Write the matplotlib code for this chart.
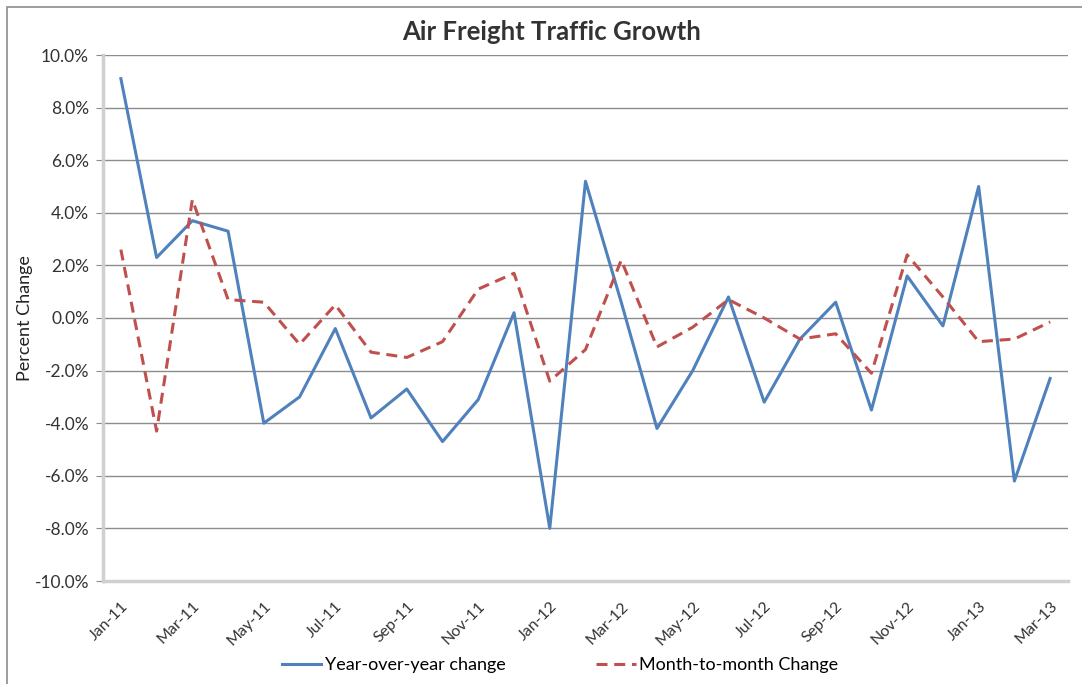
import matplotlib.pyplot as plt
import matplotlib.ticker as mtick
from matplotlib.patches import Rectangle

plt.rcParams["font.family"] = ["Lato", "DejaVu Sans"]

months = ["Jan-11", "Feb-11", "Mar-11", "Apr-11", "May-11", "Jun-11", "Jul-11", "Aug-11", "Sep-11",
          "Oct-11", "Nov-11", "Dec-11", "Jan-12", "Feb-12", "Mar-12", "Apr-12", "May-12", "Jun-12",
          "Jul-12", "Aug-12", "Sep-12", "Oct-12", "Nov-12", "Dec-12", "Jan-13", "Feb-13", "Mar-13"]

yoy = [9.1, 2.3, 3.7, 3.3, -4.0, -3.0, -0.4, -3.8, -2.7, -4.7, -3.1, 0.2, -8.0, 5.2,
       0.6, -4.2, -2.0, 0.8, -3.2, -0.8, 0.6, -3.5, 1.6, -0.3, 5.0, -6.2, -2.3]
mom = [2.6, -4.3, 4.5, 0.7, 0.6, -1.0, 0.5, -1.3, -1.5, -0.9, 1.1, 1.7, -2.4, -1.2,
       2.2, -1.1, -0.35, 0.7, 0.0, -0.8, -0.6, -2.1, 2.4, 0.8, -0.9, -0.8, -0.15]

blue = "#4F81BD"
red = "#C0504D"

fig = plt.figure(figsize=(10.82, 6.84), dpi=100)
ax = fig.add_axes([103 / 1082, 103 / 684, 965 / 1082, 526 / 684])

x = range(len(months))
ax.plot(x, yoy, color=blue, lw=2.2, label="Year-over-year change", zorder=3)
ax.plot(x, mom, color=red, lw=2.2, ls=(0, (3.6, 2.2)), label="Month-to-month Change", zorder=3)

ax.set_xlim(-0.5, len(months) - 0.5)
ax.set_ylim(-10, 10)
ax.set_yticks(range(-10, 11, 2))
ax.yaxis.set_major_formatter(mtick.FuncFormatter(lambda v, p: f"{v:.1f}%"))
ax.grid(axis="y", color="#8c8c8c", lw=1.0)
ax.set_axisbelow(True)

ax.set_xticks(list(x)[::2])
ax.set_xticklabels(months[::2], rotation=45, ha="right", rotation_mode="anchor", fontsize=11.5)
ax.tick_params(axis="x", length=0, pad=13)
ax.tick_params(axis="y", length=5, color="#8c8c8c", labelsize=12.5, pad=5)
for lab in ax.get_xticklabels() + ax.get_yticklabels():
    lab.set_color("#333333")

for s in ["top", "right"]:
    ax.spines[s].set_visible(False)
ax.spines["left"].set_color("#d0d0d0")
ax.spines["left"].set_linewidth(2.5)
ax.spines["bottom"].set_color("#d0d0d0")
ax.spines["bottom"].set_linewidth(2.5)

ax.set_ylabel("Percent Change", fontsize=13, color="#222222", labelpad=1)
fig.text(552 / 1082, 1 - 32 / 684, "Air Freight Traffic Growth", ha="center", va="center",
         fontsize=18.5, fontweight="bold", color="#333333")

fig.legend(loc="center", bbox_to_anchor=(560 / 1082, 1 - 665 / 684), ncol=2, frameon=False,
           fontsize=13, handlelength=2.2, handletextpad=0.2, columnspacing=5.0)

fig.patches.append(Rectangle((7 / 1082, -0.1), 1.2, 1 - 7 / 684 + 0.1, transform=fig.transFigure,
                             fill=False, edgecolor="#8c8c8c", lw=1.2))

fig.savefig("out.png", dpi=100)
